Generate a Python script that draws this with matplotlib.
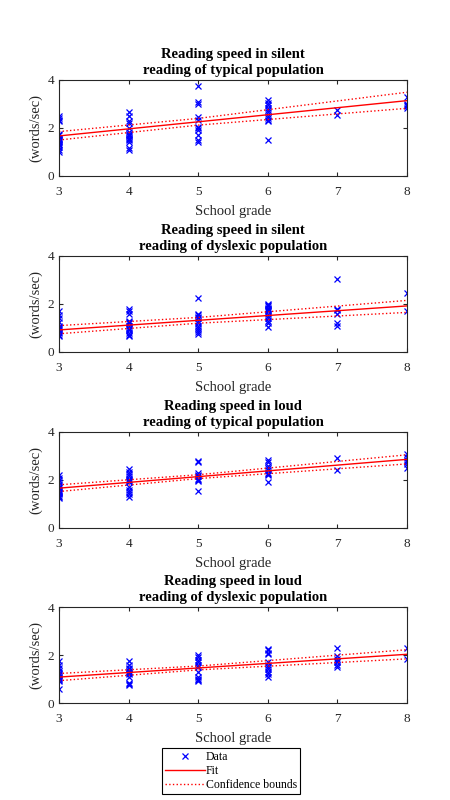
import matplotlib

matplotlib.use("Agg")
import matplotlib.pyplot as plt
import numpy as np

plt.rcParams["font.family"] = ["Liberation Serif", "DejaVu Serif"]

grades = [3, 4, 5, 6, 7, 8]
bound_grades = [3, 5, 8]

titles = [
    "Reading speed in silent\nreading of typical population",
    "Reading speed in silent\nreading of dyslexic population",
    "Reading speed in loud\nreading of typical population",
    "Reading speed in loud\nreading of dyslexic population",
]

# speeds per grade (words/sec), one list per grade 3..8
silent_typical = [
    [2.5, 2.4, 2.35, 2.3, 1.75, 1.7, 1.6, 1.55, 1.5, 1.45, 1.4, 1.35, 1.3, 1.2, 1.1, 1.0],
    [2.65, 2.5, 2.3, 2.2, 2.0, 1.85, 1.75, 1.7, 1.65, 1.6, 1.55, 1.5, 1.4, 1.15, 1.1],
    [3.75, 3.1, 3.0, 2.45, 2.35, 2.05, 2.0, 1.9, 1.7, 1.5, 1.4],
    [3.15, 3.05, 2.95, 2.85, 2.75, 2.65, 2.5, 2.4, 2.35, 2.3, 1.5],
    [2.75, 2.55],
    [3.3, 3.0, 2.95, 2.9, 2.85],
]
silent_dyslexic = [
    [1.7, 1.55, 1.4, 1.25, 1.1, 1.05, 1.0, 0.95, 0.9, 0.85, 0.8, 0.7, 0.65],
    [1.8, 1.7, 1.6, 1.3, 1.25, 1.2, 1.1, 1.0, 0.95, 0.9, 0.8, 0.7, 0.65],
    [2.25, 1.6, 1.55, 1.45, 1.4, 1.3, 1.2, 1.1, 1.0, 0.9, 0.85, 0.75],
    [2.0, 1.95, 1.9, 1.85, 1.8, 1.75, 1.7, 1.6, 1.5, 1.4, 1.3, 1.2, 1.05],
    [3.05, 1.8, 1.75, 1.6, 1.2, 1.1],
    [2.45, 1.7],
]
loud_typical = [
    [2.2, 2.1, 2.0, 1.9, 1.8, 1.7, 1.65, 1.6, 1.55, 1.5, 1.45, 1.4, 1.35, 1.3, 1.25],
    [2.45, 2.35, 2.25, 2.15, 2.05, 2.0, 1.95, 1.9, 1.7, 1.6, 1.5, 1.4, 1.3],
    [2.8, 2.75, 2.3, 2.2, 2.15, 2.05, 2.0, 1.95, 1.55],
    [2.85, 2.75, 2.6, 2.5, 2.4, 2.3, 2.25, 2.2, 1.9],
    [2.9, 2.4],
    [3.1, 2.95, 2.85, 2.8, 2.75, 2.65, 2.5],
]
loud_dyslexic = [
    [1.75, 1.6, 1.45, 1.35, 1.25, 1.2, 1.15, 1.1, 1.05, 1.0, 0.95, 0.9, 0.6],
    [1.75, 1.6, 1.45, 1.4, 1.35, 1.3, 1.25, 1.2, 1.1, 0.85, 0.8, 0.75],
    [2.0, 1.9, 1.8, 1.7, 1.6, 1.5, 1.3, 1.1, 1.0, 0.95, 0.9],
    [2.25, 2.2, 2.1, 2.05, 1.7, 1.6, 1.5, 1.4, 1.3, 1.2, 1.1],
    [2.3, 1.95, 1.85, 1.75, 1.7, 1.6, 1.5],
    [2.3, 1.85],
]

# fitted line at grade 3 and grade 8
fit_ends = [[1.67, 3.14], [0.92, 1.92], [1.66, 2.86], [1.08, 2.03]]
# confidence bounds at bound_grades
upper_bounds = [[1.85, 2.40, 3.49], [1.10, 1.44, 2.15], [1.80, 2.22, 3.05], [1.23, 1.54, 2.22]]
lower_bounds = [[1.50, 2.12, 2.82], [0.76, 1.20, 1.65], [1.52, 2.06, 2.67], [0.93, 1.38, 1.84]]

datasets = [silent_typical, silent_dyslexic, loud_typical, loud_dyslexic]

fig = plt.figure(figsize=(4.5, 8), dpi=100)
W, H = 450, 800
tops = [80, 256, 432, 607]
left, right, ax_h = 59, 407, 96
ink = "#262626"

for i, data in enumerate(datasets):
    ax = fig.add_axes([left / W, 1 - (tops[i] + ax_h) / H, (right - left) / W, ax_h / H])
    xs = np.concatenate([[g] * len(v) for g, v in zip(grades, data)])
    ys = np.concatenate(data)
    h_data, = ax.plot(xs, ys, "x", color="blue", markersize=4.5, markeredgewidth=0.9)
    h_fit, = ax.plot([3, 8], fit_ends[i], "-", color="red", linewidth=1)
    h_cb, = ax.plot(bound_grades, upper_bounds[i], ":", color="red", linewidth=1)
    ax.plot(bound_grades, lower_bounds[i], ":", color="red", linewidth=1)
    ax.set_xlim(3, 8)
    ax.set_ylim(0, 4)
    ax.set_xticks(grades)
    ax.set_yticks([0, 2, 4])
    ax.tick_params(direction="in", top=True, right=True, length=3, labelsize=9.5, colors=ink)
    ax.tick_params(axis="x", pad=7)
    for s in ax.spines.values():
        s.set_color(ink)
        s.set_linewidth(0.8)
    ax.set_title(titles[i], fontsize=10.5, fontweight="bold", pad=4, linespacing=1.35)
    ax.set_xlabel("School grade", fontsize=10.5, color=ink, labelpad=5.5)
    ax.set_ylabel("(words/sec)", fontsize=10.5, color=ink, labelpad=4)

leg = fig.legend([h_data, h_fit, h_cb], ["Data", "Fit", "Confidence bounds"],
                 loc="center", bbox_to_anchor=(231 / W, 1 - 771 / H), fontsize=8.5,
                 fancybox=False, edgecolor="black", framealpha=1, handlelength=3.4,
                 handletextpad=0.05, borderpad=0.3, labelspacing=0.15, borderaxespad=0)
leg.get_frame().set_linewidth(0.8)

fig.savefig("out.png", dpi=100)
